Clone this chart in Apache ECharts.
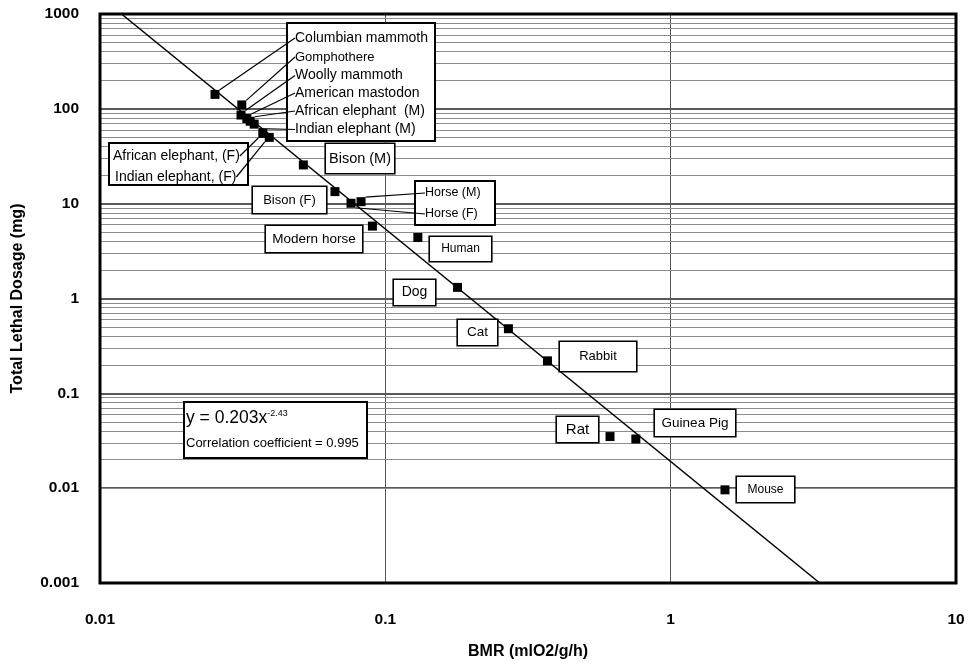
<!DOCTYPE html>
<html>
<head>
<meta charset="utf-8">
<script src="https://cdn.jsdelivr.net/npm/echarts@6/dist/echarts.min.js"></script>
<style>
html,body{margin:0;padding:0;background:#fff;}
#chart{width:976px;height:670px;}
</style>
</head>
<body>
<div id="chart"></div>
<script>
// ---- data ----
const animals = ['Columbian mammoth','Gomphothere','Woolly mammoth','American mastodon','African elephant  (M)','Indian elephant (M)',
  'African elephant, (F)','Indian elephant, (F)','Bison (M)','Bison (F)','Horse (M)','Horse (F)','Modern horse','Human',
  'Dog','Cat','Rabbit','Rat','Guinea Pig','Mouse'];
const bmr  = [0.0253,0.0314,0.0312,0.0327,0.0336,0.0347,0.0372,0.0392,0.0516,0.0666,0.0822,0.0758,0.0901,0.130,0.179,0.270,0.370,0.613,0.755,1.55];
const dose = [142,110,86,79,74,69,55,50,25.6,13.4,10.5,10.1,5.8,4.4,1.31,0.48,0.22,0.035,0.033,0.0096];
const trendX = [0.0119, 3.33];
const trendY = [1000, 0.001];
const xTickLabels = ['0.01','0.1','1','10'];
const yTickLabels = ['0.001','0.01','0.1','1','10','100','1000'];
const minorFactors = [2,3,4,5,6,7,8,9];
const yDecades = [0.001,0.01,0.1,1,10,100];
const eqText = 'y = 0.203x';
const eqExp = '-2.43';
const corrText = 'Correlation coefficient = 0.995';

// ---- label layout (positions/sizes only) ----
const FONT = '"Liberation Sans", Arial, Helvetica, sans-serif';
const labelSpec = [
  {x:292,y:38,fs:14,line:true},
  {x:292,y:57,fs:13,line:true},
  {x:292,y:75.5,fs:14,line:true},
  {x:292,y:93,fs:14,line:true},
  {x:292,y:111,fs:14,line:true},
  {x:292,y:129.5,fs:14,line:true},
  {x:110,y:156,fs:14,line:true},
  {x:112,y:177,fs:14,line:true},
  {x:360,y:158.5,w:68,h:29,fs:14.5},
  {x:289.5,y:200,w:73,h:26,fs:13},
  {x:422,y:193,fs:12.5,line:true},
  {x:422,y:214,fs:12.5,line:true},
  {x:314,y:239,w:96,h:26,fs:13.5},
  {x:460.5,y:249,w:61,h:24,fs:12},
  {x:414.5,y:292.5,w:41,h:25,fs:14},
  {x:477.5,y:332.5,w:39,h:25,fs:13.5},
  {x:598,y:356.5,w:76,h:29,fs:13},
  {x:577.5,y:429.5,w:41,h:25,fs:15},
  {x:695,y:423,w:80,h:26,fs:13.5},
  {x:765.5,y:489.5,w:57,h:25,fs:12}
];

const scatterData = animals.map((name,i)=>{
  const s = labelSpec[i];
  const label = s.w ? {
    show:true, formatter:'{b}', fontSize:s.fs, fontFamily:FONT, color:'#000',
    width:s.w, height:s.h, lineHeight:s.h, align:'center', verticalAlign:'middle',
    borderColor:'#000', borderWidth:1.6, backgroundColor:'#fff', padding:0
  } : {
    show:true, formatter:'{b}', fontSize:s.fs, fontFamily:FONT, color:'#000',
    align:'left', verticalAlign:'middle', padding:[0,3]
  };
  return {name:name, value:[bmr[i], dose[i]], label:label, labelLine:{show:!!s.line}};
});

const minorLines = [];
yDecades.forEach(d=>minorFactors.forEach(f=>minorLines.push({yAxis:+(d*f).toPrecision(6)})));

function tickFmt(list, offset){
  return function(v){ const k = Math.round(Math.log10(v)) + offset; return list[k] !== undefined ? list[k] : ''; };
}

const chart = echarts.init(document.getElementById('chart'));
chart.setOption({
  animation:false,
  backgroundColor:'#fff',
  grid:{left:100,right:20,top:14,bottom:87,show:true,borderColor:'#000',borderWidth:0,backgroundColor:'#fff'},
  xAxis:{
    type:'log', logBase:10, min:0.01, max:10,
    name:'BMR (mlO2/g/h)', nameLocation:'middle', nameGap:61,
    nameTextStyle:{fontFamily:FONT,fontWeight:'bold',fontSize:16,color:'#000'},
    axisLine:{show:false},
    axisTick:{show:false},
    axisLabel:{formatter:tickFmt(xTickLabels,2),fontFamily:FONT,fontWeight:'bold',fontSize:15.5,color:'#000',margin:29},
    splitLine:{show:true,lineStyle:{color:'#555',width:1}},
    minorTick:{show:false}, minorSplitLine:{show:false}
  },
  yAxis:{
    type:'log', logBase:10, min:0.001, max:1000,
    name:'Total Lethal Dosage (mg)', nameLocation:'middle', nameGap:74,
    nameTextStyle:{fontFamily:FONT,fontWeight:'bold',fontSize:16,color:'#000'},
    axisLine:{show:false},
    axisTick:{show:false},
    axisLabel:{formatter:tickFmt(yTickLabels,3),fontFamily:FONT,fontWeight:'bold',fontSize:15.5,color:'#000',margin:21},
    splitLine:{show:true,lineStyle:{color:'#222',width:1.6}},
    minorTick:{show:false}, minorSplitLine:{show:false}
  },
  graphic:[
    {type:'rect',z:2,shape:{x:287,y:23,width:148,height:118},style:{fill:'#fff',stroke:'#000',lineWidth:2}},
    {type:'rect',z:2,shape:{x:109,y:143,width:139,height:42},style:{fill:'#fff',stroke:'#000',lineWidth:2}},
    {type:'rect',z:2,shape:{x:415,y:181,width:80,height:44},style:{fill:'#fff',stroke:'#000',lineWidth:2}},
    {type:'rect',z:2,shape:{x:184,y:402,width:183,height:56},style:{fill:'#fff',stroke:'#000',lineWidth:2}},
    {type:'text',z:2,x:186,y:418,style:{
      text:'{a|'+eqText+'}{b|'+eqExp+'}',
      verticalAlign:'middle',
      rich:{a:{fontSize:17.5,fontFamily:FONT,fill:'#000'},b:{fontSize:9,fontFamily:FONT,fill:'#000',verticalAlign:'top'}}
    }},
    {type:'text',z:2,x:186,y:443,style:{text:corrText,fontSize:13,fontFamily:FONT,fill:'#000',verticalAlign:'middle'}},
    {type:'rect',z:10,silent:true,shape:{x:100,y:14,width:856,height:569},style:{fill:null,stroke:'#000',lineWidth:3}}
  ],
  series:[
    {
      type:'line', z:3, silent:true,
      data:trendX.map((x,i)=>[x,trendY[i]]),
      showSymbol:false, symbol:'none',
      lineStyle:{color:'#000',width:1.6,opacity:1},
      markLine:{
        z:1, silent:true, symbol:['none','none'], label:{show:false},
        lineStyle:{color:'#8c8c8c',width:1,type:'solid',opacity:1},
        emphasis:{disabled:true},
        data:minorLines
      }
    },
    {
      type:'scatter', z:4, silent:true,
      symbol:'rect', symbolSize:9,
      itemStyle:{color:'#000',opacity:1},
      labelLine:{show:false,lineStyle:{color:'#000',width:1.2,opacity:1}},
      labelLayout:function(p){
        const s = labelSpec[p.dataIndex];
        return {x:s.x, y:s.y, align: s.w ? 'center' : 'left', verticalAlign:'middle'};
      },
      data:scatterData
    }
  ]
});
</script>
</body>
</html>
